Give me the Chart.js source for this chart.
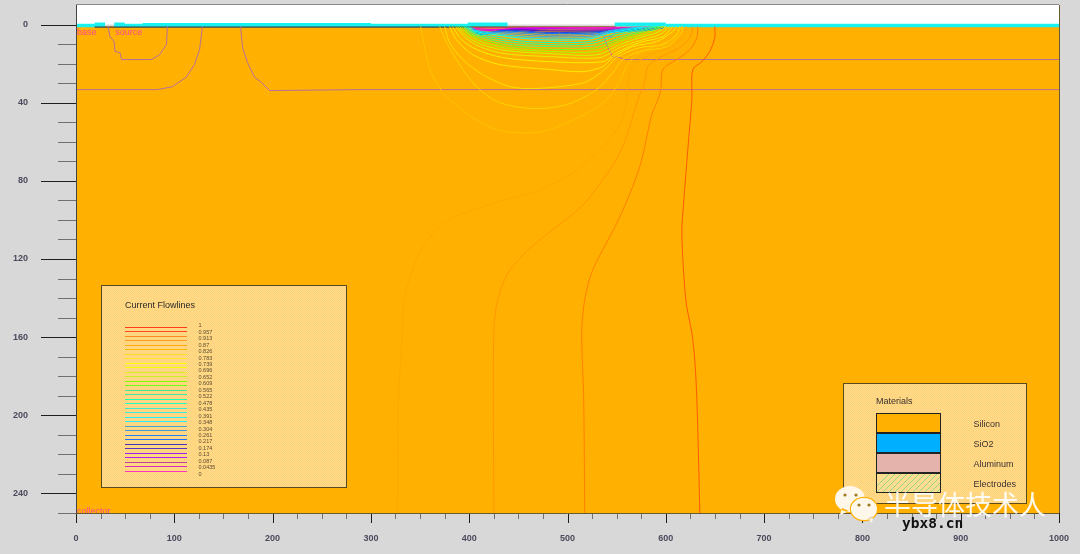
<!DOCTYPE html>
<html>
<head>
<meta charset="utf-8">
<script src="https://cdn.jsdelivr.net/npm/chart.js@4/dist/chart.umd.min.js"></script>
<style>
  html, body { margin: 0; padding: 0; background: #d8d8d8; }
  canvas { display: block; }
</style>
</head>
<body>
<canvas id="grafico" width="1080" height="554"></canvas>
<script>
// Flowlines, [x, y] pairs, outermost first
const flowD = [[634.6,250],[633.6,228],[631.6,192],[629.5,171.8],[626.5,158],[620.4,141],[616.3,106.7],[618.4,89.7],[622.4,64],[626.5,38.5],[626.5,33.3],[627.5,23],[636.6,19],[644.7,13.8],[649.8,6.7],[649.8,1]];
const flowC = [[517.5,250],[516.5,192],[514.5,158],[517.5,141],[525.7,125.6],[553,98.7],[573.5,72.8],[585.8,46],[592,38.5],[595,33.3],[597,23],[611,17.9],[624.5,12.8],[631.6,6.7],[632.6,1]];
const flowB = [[425,250],[425,156.4],[429,141],[440,126.7],[464.6,113.3],[507,96.4],[520.6,89.7],[545,72.8],[558,60.5],[571.5,38.5],[578.6,29.7],[581.7,21.5],[594,16.9],[614,11.8],[624.5,6.7],[627.5,1]];
const flowA = [[327,250],[328,192],[332,158],[334,141],[341.5,126.7],[352.6,114],[372,102.6],[390,97.4],[436,89.7],[467,85.6],[502,77],[533,64],[553,51.3],[561,38.5],[560,35],[566,21.5],[584,15.4],[604,11.8],[617,6.7],[621,1]];
const flowE = [[350.6,1],[360,23],[373,34.9],[380.2,38.5],[403.5,47.7],[428,53.8],[451.4,55.4],[474.8,54.9],[502,49.7],[522.4,44.6],[539.7,38.5],[553,29.2],[561,20.5],[573.5,14.4],[594,10.3],[609,6.7],[616,1]];
const flowF = [[370,1],[377,9.2],[393.5,23],[410.7,33.3],[431,40],[464.6,43],[499.2,41],[529.7,33.3],[546,24.6],[556.3,17.9],[573.5,13.8],[601,11.3],[616,4.1],[617,1]];
const flowG = [[375,1],[380,9.2],[393.5,17.9],[413.7,25.6],[438,31.3],[458.5,32.8],[492,31.8],[519.6,29.2],[540,22],[550,16.9],[573.5,11.8],[597,10.3],[611,5.1],[614,1]];
const flowH = [[380,1],[387,7.7],[403.5,15.4],[431,20.5],[482,23],[515.5,24.1],[536,21.5],[546,16.9],[566.4,11.3],[590.8,8.7],[607,3.6],[611,1]];
const flowI = [[383,1],[392.3,7.7],[407.6,12.8],[434,16.9],[482,19],[536,19],[550,14.4],[573.5,9.2],[597,6.2],[607,1]];
const flowL1 = [[386,1],[396,6.7],[410.7,11.3],[436,14.9],[482,16.4],[533,16.9],[553,11.8],[573.5,8.2],[594,5.1],[604,1]];
const flowL2 = [[388,1],[398,6.2],[412.7,10.3],[438,13.3],[482,14.9],[531,15.4],[553,10.3],[573.5,6.7],[591,4.1],[601,1]];
const flowL3 = [[390,1],[400.5,5.6],[414.7,9.2],[440,12.3],[482,13.8],[530,13.8],[553,8.7],[573.5,5.6],[589,3],[598,1]];
const flowL4 = [[392,1],[401.5,5.1],[417,8.2],[442,11.3],[482,12.6],[529,12.3],[553,7.7],[573.5,4.4],[586,2.6],[596,1]];
const flowL5 = [[394,1],[402.5,4.6],[419,7.4],[444,10.3],[482,11.3],[527,11],[553,6.7],[573.5,3.6],[584,2],[594,1]];
const flowL6 = [[395.5,1],[403.5,4.1],[421,6.7],[446,9.2],[482,10.3],[525,9.7],[551,5.6],[571.5,3],[581.7,1.8],[592,1]];
const flowL7 = [[396,1],[405,3.8],[423,5.9],[448.5,8.2],[482,9.2],[522.5,8.7],[548,4.9],[568.5,2.6],[579.6,1.5],[589.8,1]];
const flowL8 = [[398.4,1],[405,3.3],[425,5.1],[451.4,6.9],[482,7.9],[522.5,7.4],[545,4.1],[565.5,2.3],[577.6,1.3]];
const flowL9 = [[400.5,1.3],[406.7,3],[427,4.6],[453.4,6.2],[482,6.9],[522.5,6.7],[542.8,3.6],[563.5,2],[575.6,1.3]];
const flowL10 = [[402.5,1.5],[408.6,3.3],[429,4.1],[455.4,5.4],[482,6.2],[522.5,5.9],[541,3.3],[561.3,1.8],[573.5,1.3]];
const flowL11 = [[404.5,2],[410.7,4.1],[431,3.8],[457.5,4.6],[482,5.4],[522.5,5.1],[553,3.6],[584,3],[598,1.5]];
const flowL12 = [[404.5,3],[412.7,5.1],[431,3.3],[482,4.6],[522.5,4.4],[558,3],[584,2.6],[596,1.5]];
const flowL13 = [[405.5,4.1],[414.7,5.1],[436,3],[482,4.1],[522.5,3.8],[563.5,2.8],[586,2],[594,1.5]];
const flowL14 = [[406,3.6],[416.7,4.1],[441,2.8],[482,3.3],[533,3.3],[568.5,2.6],[597,1.8]];
const flowL15 = [[405,3],[418,4.4],[446,2.6],[482,2.8],[533,2.8],[573.5,2],[596,1.5]];
const flowL16 = [[403,2.6],[421,3],[451.4,2],[533,2.3],[573.5,1.8],[595,1.3]];
const flowL17 = [[403,2],[426,2.6],[456.5,1.8],[533,1.8],[592,1.5]];
const flowL18 = [[404,1.8],[431,1.8],[533,1.5],[590,1.3]];

const flowLines = [flowD, flowC, flowB, flowA, flowE, flowF, flowG, flowH, flowI, flowL1, flowL2, flowL3, flowL4, flowL5, flowL6, flowL7, flowL8, flowL9, flowL10, flowL11, flowL12, flowL13, flowL14, flowL15, flowL16, flowL17, flowL18];
const flowColors = ['#ff5a00', '#ff8000', '#ff9800', '#ffa800', '#ffc400', '#ffd400', '#ffe000', '#ffea00', '#f4f000', '#e8f000', '#c8ff00', '#a0ff00', '#70ff20', '#40ff70', '#20ffa0', '#00ffd0', '#00ffff', '#20d0f0', '#40a8d8', '#3090f0', '#0070ff', '#2040f0', '#4818b8', '#9000e8', '#c000ff', '#f000e0', '#ff30a0'];

// Junction boundaries
const junctionSource = [[32.5,1],[34.6,6.2],[38.7,8.7],[39.7,13.8],[44.8,14.4],[46.3,17.9],[77,17.9],[85,15.4],[92,10.3],[93,1]];
const junctionBaseLeft = [[0,33.3],[83,33.3],[98,31.8],[112,27],[120.6,20.5],[125.7,12.8],[128.7,1]];
const junctionBaseRight = [[167.4,1],[169.5,11.8],[174.5,19.5],[181.7,27],[188.8,29.7],[197,33.8],[288.6,33.3],[1000,33.3]];
const junctionDrain = [[522.5,4.1],[532.7,5.6],[540.8,4.1],[548,4.1],[545,6.2],[536.8,6.2],[537.8,7.7],[541,11.8],[546,16.4],[553,16.9],[558,17.9],[1000,17.9]];

// Surface layers along the top of the silicon
const surfaceDark = [[19,1.3],[549,1.3]];
const oxideLow = [[0,0.5],[29.5,0.5],[null,null],[39,0.5],[400,0.5],[null,null],[600,0.5],[1000,0.5]];
const oxideRaised = [[19,0],[29.5,0],[null,null],[39,0],[49.5,0],[null,null],[68,0.2],[300,0.2],[null,null],[398.5,0],[439,0],[null,null],[548,0],[600,0]];

// Axis ticks
const xMajorStep = 100;
const xMinorStep = 25;
const yMajorStep = 40;
const yMinorStep = 10;

// Legend contents
const flowLevels = ['1', '0.957', '0.913', '0.87', '0.826', '0.783', '0.739', '0.696', '0.652', '0.609', '0.565', '0.522', '0.478', '0.435', '0.391', '0.348', '0.304', '0.261', '0.217', '0.174', '0.13', '0.087', '0.0435', '0'];
const legendLineColors = ['#ff3a20', '#ff4a20', '#ff8a20', '#ff9a20', '#ffa810', '#ffb800', '#ffd820', '#ffe430', '#ffff00', '#f4ff00', '#d8f020', '#c8f020', '#80ff00', '#70ff10', '#40e890', '#40e8a0', '#20ffb0', '#20ffc0', '#40e8d0', '#40e8e0', '#20f0ff', '#20f0ff', '#40a8d0', '#4098d8', '#2080ff', '#2070ff', '#4030c0', '#6030c0', '#a020f0', '#b020f0', '#c040a0', '#d030c0', '#ff30c0'];
const materialNames = ['Silicon', 'SiO2', 'Aluminum', 'Electrodes'];
const materialColors = ['#ffb000', '#00b0ff', '#e4b4ac', '#ffdc90'];

const contactLabels = [['base', 1, 4.2], ['source', 40, 4.2], ['collector', 1, 249]];

function pontos(lista) {
    return lista.map(p => ({ x: p[0], y: p[1] }));
}

// Fundo: ar branco em cima, silício laranja embaixo
const fundoPlugin = {
    id: 'fundo',
    beforeDatasetsDraw(chart) {
        const { ctx, chartArea: a, scales } = chart;
        const y0 = scales.y.getPixelForValue(0);
        ctx.save();
        ctx.fillStyle = '#ffffff';
        ctx.fillRect(a.left, a.top, a.width, y0 - a.top);
        ctx.fillStyle = '#ffb000';
        ctx.fillRect(a.left, y0 + 2, a.width, a.bottom - y0 - 2);
        ctx.restore();
    }
};

function padraoPainel(ctx) {
    const c = document.createElement('canvas');
    c.width = 2;
    c.height = 2;
    const p = c.getContext('2d');
    p.fillStyle = '#ffdb8c';
    p.fillRect(0, 0, 2, 2);
    p.fillStyle = '#ffd27a';
    p.fillRect(0, 0, 1, 1);
    p.fillRect(1, 1, 1, 1);
    return ctx.createPattern(c, 'repeat');
}

function painel(ctx, x, y, w, h) {
    ctx.fillStyle = padraoPainel(ctx);
    ctx.fillRect(x, y, w, h);
    ctx.strokeStyle = '#5a4a20';
    ctx.lineWidth = 1;
    ctx.strokeRect(x + 0.5, y + 0.5, w, h);
}

function desenharLegendaLinhas(ctx) {
    painel(ctx, 101, 285, 245, 202);
    ctx.fillStyle = '#2a2a2a';
    ctx.font = '9px "Liberation Sans"';
    ctx.textBaseline = 'middle';
    ctx.fillText('Current Flowlines', 125, 306);
    legendLineColors.forEach((cor, i) => {
        const y = Math.round(327 + Math.floor(i / 2) * 9 + (i % 2) * 4) + 0.5;
        ctx.strokeStyle = cor;
        ctx.beginPath();
        ctx.moveTo(125, y);
        ctx.lineTo(187, y);
        ctx.stroke();
    });
    ctx.fillStyle = '#5a4a30';
    ctx.font = '5.5px "Liberation Sans"';
    flowLevels.forEach((nivel, i) => {
        ctx.fillText(nivel, 198.5, 325.7 + i * 6.46);
    });
}

function desenharLegendaMateriais(ctx) {
    painel(ctx, 843, 383, 183, 120);
    ctx.fillStyle = '#3a3030';
    ctx.font = '9px "Liberation Sans"';
    ctx.textBaseline = 'middle';
    ctx.fillText('Materials', 876, 401.5);
    materialNames.forEach((nome, i) => {
        const y = 413 + i * 20;
        ctx.fillStyle = materialColors[i];
        ctx.fillRect(876, y, 64, 20);
        ctx.fillStyle = '#3a3030';
        ctx.fillText(nome, 973.5, y + 12);
    });
    // hachura dos eletrodos
    ctx.save();
    ctx.beginPath();
    ctx.rect(876, 473, 64, 19);
    ctx.clip();
    ctx.strokeStyle = '#90d890';
    ctx.lineWidth = 1;
    for (let x = 870; x < 970; x += 6) {
        ctx.beginPath();
        ctx.moveTo(x, 493);
        ctx.lineTo(x + 22, 471);
        ctx.stroke();
    }
    ctx.restore();
    ctx.strokeStyle = '#222222';
    ctx.lineWidth = 1;
    ctx.strokeRect(876.5, 413.5, 64, 79);
    ctx.lineWidth = 2;
    [433, 453, 473].forEach(y => {
        ctx.beginPath();
        ctx.moveTo(876, y);
        ctx.lineTo(941, y);
        ctx.stroke();
    });
}

function desenharMarcaDagua(ctx) {
    ctx.save();
    ctx.fillStyle = '#fff8ea';
    ctx.beginPath();
    ctx.ellipse(850, 499, 15, 13, 0, 0, Math.PI * 2);
    ctx.moveTo(842, 508);
    ctx.lineTo(840, 515);
    ctx.lineTo(849, 511);
    ctx.fill();
    ctx.strokeStyle = '#ffb000';
    ctx.lineWidth = 1.5;
    ctx.beginPath();
    ctx.ellipse(864, 509, 13.5, 11.5, 0, 0, Math.PI * 2);
    ctx.stroke();
    ctx.beginPath();
    ctx.ellipse(864, 509, 13, 11, 0, 0, Math.PI * 2);
    ctx.moveTo(868, 518);
    ctx.lineTo(872, 523);
    ctx.lineTo(873, 516);
    ctx.fill();
    ctx.fillStyle = '#a07820';
    [[845, 495], [856, 495], [859, 505], [869, 505]].forEach(p => {
        ctx.beginPath();
        ctx.arc(p[0], p[1], 1.6, 0, Math.PI * 2);
        ctx.fill();
    });
    ctx.fillStyle = 'rgba(255,255,255,0.92)';
    ctx.font = '27px "Noto Sans CJK SC"';
    ctx.textBaseline = 'middle';
    ctx.fillText('半导体技术人', 884, 505);
    ctx.fillStyle = '#111111';
    ctx.font = 'bold 14.5px "DejaVu Sans Mono"';
    ctx.textBaseline = 'alphabetic';
    ctx.fillText('ybx8.cn', 902, 528);
    ctx.restore();
}

// Marcas dos eixos, moldura, legendas e textos
const molduraPlugin = {
    id: 'moldura',
    afterDraw(chart) {
        const { ctx, chartArea: a, scales } = chart;
        ctx.save();

        // nomes dos contatos
        ctx.fillStyle = '#ff4a90';
        ctx.font = '9px "Liberation Sans"';
        ctx.textBaseline = 'middle';
        contactLabels.forEach(c => {
            ctx.fillText(c[0], scales.x.getPixelForValue(c[1]), scales.y.getPixelForValue(c[2]));
        });

        desenharLegendaLinhas(ctx);
        desenharLegendaMateriais(ctx);

        // ticks do eixo y
        ctx.lineWidth = 1;
        scales.y.ticks.forEach(t => {
            if (t.value < 0) return;
            const y = Math.round(scales.y.getPixelForValue(t.value)) + 0.5;
            const maior = t.value % yMajorStep === 0;
            ctx.strokeStyle = maior ? '#1e1e1e' : '#707070';
            ctx.beginPath();
            ctx.moveTo(a.left - (maior ? 35 : 18), y);
            ctx.lineTo(a.left, y);
            ctx.stroke();
        });
        // ticks do eixo x
        scales.x.ticks.forEach(t => {
            const x = Math.round(scales.x.getPixelForValue(t.value)) + 0.5;
            const maior = t.value % xMajorStep === 0;
            ctx.strokeStyle = maior ? '#1e1e1e' : '#707070';
            ctx.beginPath();
            ctx.moveTo(x, a.bottom);
            ctx.lineTo(x, a.bottom + (maior ? 10 : 6));
            ctx.stroke();
        });

        // moldura
        ctx.strokeStyle = '#8a8a8a';
        ctx.beginPath();
        ctx.moveTo(a.left, a.top - 0.5);
        ctx.lineTo(a.right, a.top - 0.5);
        ctx.stroke();
        ctx.strokeStyle = '#444444';
        ctx.beginPath();
        ctx.moveTo(a.left + 0.5, a.top);
        ctx.lineTo(a.left + 0.5, a.bottom);
        ctx.stroke();
        ctx.strokeStyle = '#6a5a30';
        ctx.beginPath();
        ctx.moveTo(a.left, a.bottom + 0.5);
        ctx.lineTo(a.right, a.bottom + 0.5);
        ctx.moveTo(a.right + 0.5, a.top);
        ctx.lineTo(a.right + 0.5, a.bottom);
        ctx.stroke();

        desenharMarcaDagua(ctx);
        ctx.restore();
    }
};

function serie(lista, cor, largura, tensao) {
    return {
        data: pontos(lista),
        borderColor: cor,
        borderWidth: largura,
        pointRadius: 0,
        showLine: true,
        tension: tensao,
        spanGaps: false,
        borderCapStyle: 'butt'
    };
}

// Sem margem extra dos rótulos, a área do gráfico fica onde a imagem pede
function zerarMargens(scale) {
    scale.paddingLeft = 0;
    scale.paddingRight = 0;
    scale.paddingTop = 0;
    scale.paddingBottom = 0;
}

const datasets = [];
flowLines.forEach((linha, i) => datasets.push(serie(linha, flowColors[i], 1, 0.3)));
[junctionSource, junctionBaseLeft, junctionBaseRight, junctionDrain].forEach(linha => {
    datasets.push(serie(linha, '#b87098', 1, 0));
});
datasets.push(serie(surfaceDark, '#302030', 1, 0));
datasets.push(serie(oxideLow, '#19f0f0', 3.5, 0));
datasets.push(serie(oxideRaised, '#19f0f0', 4, 0));

const tickFont = { family: '"Liberation Sans"', size: 9, weight: 'bold' };

new Chart(document.getElementById('grafico'), {
    type: 'scatter',
    data: { datasets: datasets },
    options: {
        responsive: false,
        animation: false,
        layout: { padding: { top: 5, right: 21, left: 0, bottom: 0 } },
        plugins: { legend: { display: false }, tooltip: { enabled: false } },
        scales: {
            x: {
                type: 'linear',
                min: 0,
                max: 1000,
                grid: { display: false },
                border: { display: false },
                afterFit(scale) { scale.height = 41; zerarMargens(scale); },
                ticks: {
                    stepSize: xMinorStep,
                    autoSkip: false,
                    maxRotation: 0,
                    padding: 12,
                    color: '#4a4a5c',
                    font: tickFont,
                    callback: v => (v % xMajorStep === 0 ? String(v) : '')
                }
            },
            y: {
                type: 'linear',
                min: -10,
                max: 250,
                reverse: true,
                grid: { display: false },
                border: { display: false },
                afterFit(scale) { scale.width = 76; zerarMargens(scale); },
                ticks: {
                    stepSize: yMinorStep,
                    autoSkip: false,
                    padding: 40,
                    color: '#4a4a5c',
                    font: tickFont,
                    callback: v => (v >= 0 && v % yMajorStep === 0 ? String(v) : '')
                }
            }
        }
    },
    plugins: [fundoPlugin, molduraPlugin]
});
</script>
</body>
</html>
